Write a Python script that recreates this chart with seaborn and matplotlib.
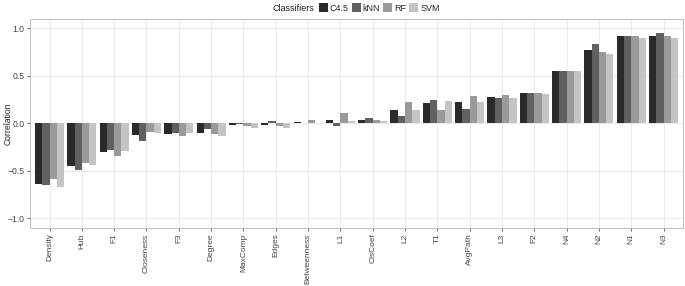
import pandas as pd
import matplotlib
matplotlib.use("Agg")
import matplotlib.pyplot as plt
import seaborn as sns

# ------------------------------------------
# Data
# ------------------------------------------

measures = ["Density", "Hub", "F1", "Closeness", "F3", "Degree", "MaxComp",
            "Edges", "Betweenness", "L1", "ClsCoef", "L2", "T1", "AvgPath",
            "L3", "F2", "N4", "N2", "N1", "N3"]

classifiers = ["C4.5", "kNN", "RF", "SVM"]

c45 = [-0.64, -0.45, -0.30, -0.125, -0.11, -0.10, -0.02, -0.015, 0.01, 0.035,
       0.035, 0.145, 0.21, 0.225, 0.28, 0.32, 0.55, 0.77, 0.915, 0.925]
knn = [-0.65, -0.49, -0.28, -0.19, -0.10, -0.055, -0.01, 0.025, 0.005, -0.03,
       0.055, 0.075, 0.25, 0.15, 0.265, 0.32, 0.555, 0.84, 0.92, 0.955]
rf = [-0.59, -0.42, -0.34, -0.09, -0.13, -0.115, -0.025, -0.03, 0.04, 0.11,
      0.035, 0.225, 0.14, 0.29, 0.30, 0.325, 0.55, 0.75, 0.915, 0.92]
svm = [-0.667, -0.44, -0.29, -0.105, -0.10, -0.13, -0.045, -0.045, 0.0, 0.03,
       0.025, 0.14, 0.24, 0.225, 0.27, 0.31, 0.55, 0.73, 0.90, 0.90]

colors = ["#2a2a2a", "#606060", "#9a9a9a", "#c4c4c4"]

df = pd.DataFrame({
    "Measure": measures * 4,
    "Classifier": sum([[c] * len(measures) for c in classifiers], []),
    "Correlation": c45 + knn + rf + svm,
})

# ------------------------------------------
# Plot
# ------------------------------------------

sns.set_theme(style="whitegrid")
plt.rcParams["font.family"] = ["Liberation Sans", "DejaVu Sans"]

fig = plt.figure(figsize=(6.85, 2.86), dpi=100)
ax = fig.add_axes([0.044, 0.203, 0.953, 0.731])

sns.barplot(
    data=df,
    x="Measure",
    y="Correlation",
    hue="Classifier",
    order=measures,
    hue_order=classifiers,
    palette=colors,
    saturation=1,
    width=0.9,
    linewidth=0,
    ax=ax,
)

ax.set_xlim(-0.6, len(measures) - 0.4)
ax.set_ylim(-1.1, 1.1)
ax.set_yticks([-1.0, -0.5, 0.0, 0.5, 1.0])
ax.set_yticklabels(["\u22121.0", "\u22120.5", "0.0", "0.5", "1.0"])
ax.set_xlabel("")
ax.set_ylabel("Correlation", fontsize=6.2, color="#222222")
ax.yaxis.set_label_coords(-0.027, 0.5)

ax.tick_params(axis="x", rotation=90, labelsize=6.0, labelcolor="#444444",
               length=2.5, width=0.5, color="#333333", pad=1.5, bottom=True)
ax.tick_params(axis="y", labelsize=6.2, labelcolor="#444444",
               length=2.5, width=0.5, color="#333333", pad=1.5, left=True)

ax.grid(True, color="#e6e6e6", linewidth=0.6)
ax.set_axisbelow(True)
for s in ax.spines.values():
    s.set_color("#b5b5b5")
    s.set_linewidth(0.6)

# legend on top, title left of the keys
handles, labels = ax.get_legend_handles_labels()
ax.get_legend().remove()
fig.text(0.398, 0.972, "Classifiers", fontsize=6.5, color="#222222",
         ha="left", va="center")
fig.legend(handles, labels, loc="center left", bbox_to_anchor=(0.465, 0.972),
           ncol=4, frameon=False, fontsize=6.5, handlelength=1.0,
           handleheight=1.0, handletextpad=0.25, columnspacing=0.3,
           borderpad=0, borderaxespad=0)

plt.savefig("out.png", dpi=100)
